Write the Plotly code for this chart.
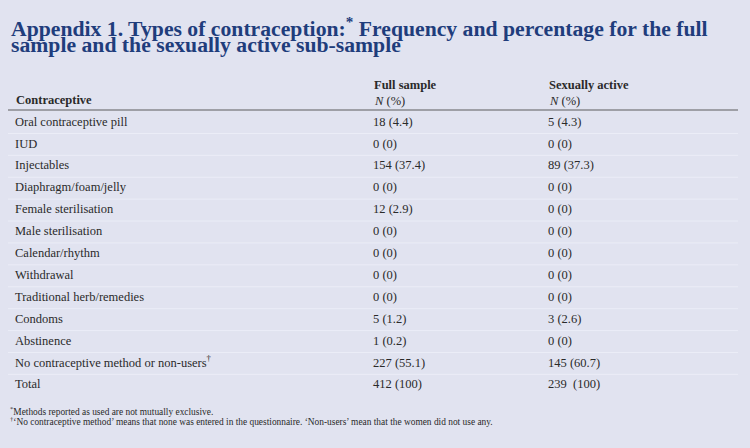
import plotly.graph_objects as go

title_lines = [
    "Appendix 1. Types of contraception:<sup>*</sup> Frequency and percentage for the full",
    "sample and the sexually active sub-sample",
]
header_label = "Contraceptive"
col_headers = ["Full sample", "Sexually active"]
col_sub = "<i>N</i> (%)"
categories = [
    "Oral contraceptive pill", "IUD", "Injectables", "Diaphragm/foam/jelly",
    "Female sterilisation", "Male sterilisation", "Calendar/rhythm", "Withdrawal",
    "Traditional herb/remedies", "Condoms", "Abstinence",
    "No contraceptive method or non-users<sup>†</sup>", "Total",
]
full_n = [18, 0, 154, 0, 12, 0, 0, 0, 0, 5, 1, 227, 412]
full_pct = ["4.4", "0", "37.4", "0", "2.9", "0", "0", "0", "0", "1.2", "0.2", "55.1", "100"]
active_n = [5, 0, 89, 0, 0, 0, 0, 0, 0, 3, 0, 145, 239]
active_pct = ["4.3", "0", "37.3", "0", "0", "0", "0", "0", "0", "2.6", "0", "60.7", "100"]
footnotes = [
    "<sup>*</sup>Methods reported as used are not mutually exclusive.",
    "<sup>†</sup>‘No contraceptive method’ means that none was entered in the questionnaire. ‘Non-users’ mean that the women did not use any.",
]

# layout constants
W, H = 750, 448
BG = "#e1e3f0"
TITLE_C = "#1f3d7c"
TXT = "#2a2a2a"
FONT = "Liberation Serif"
col_x = [15, 373, 548]
row0 = 122.5
row_h = 21.9
line_left, line_right = 8, 738

ys = [row0 + i * row_h for i in range(len(categories))]
full_txt = [f"{n} ({p})" for n, p in zip(full_n, full_pct)]
active_txt = [f"{n} ({p})" if c != "Total" else f"{n}  ({p})"
              for n, p, c in zip(active_n, active_pct, categories)]

fig = go.Figure()
for x, texts in zip(col_x, [categories, full_txt, active_txt]):
    fig.add_trace(go.Scatter(
        x=[x] * len(texts), y=ys, text=texts, mode="text",
        textposition="middle right",
        textfont=dict(family=FONT, size=12.5, color=TXT),
        hoverinfo="skip", showlegend=False,
    ))

shapes = []
shapes.append(dict(type="line", xref="x", yref="y", x0=line_left, x1=line_right,
                   y0=110, y1=110, line=dict(color="#5c5c5c", width=1.2)))
for y in ys[:-1]:
    shapes.append(dict(type="line", xref="x", yref="y", x0=line_left, x1=line_right,
                       y0=y + row_h / 2, y1=y + row_h / 2,
                       line=dict(color="#ebedf7", width=1)))

ann = []
for t, ty in zip(title_lines, [43.5, 59]):
    ann.append(dict(x=9, y=ty, xref="x", yref="y", text=f"<b>{t}</b>",
                    showarrow=False, xanchor="left", yanchor="bottom",
                    font=dict(family=FONT, size=21.7, color=TITLE_C)))
ann.append(dict(x=col_x[0] - 1, y=100, xref="x", yref="y", text=f"<b>{header_label}</b>",
                showarrow=False, xanchor="left", yanchor="middle",
                font=dict(family=FONT, size=12.5, color=TXT)))
for x, h in zip(col_x[1:], col_headers):
    ann.append(dict(x=x - 1, y=85, xref="x", yref="y", text=f"<b>{h}</b>",
                    showarrow=False, xanchor="left", yanchor="middle",
                    font=dict(family=FONT, size=12.5, color=TXT)))
    ann.append(dict(x=x - 1, y=100.5, xref="x", yref="y", text=col_sub,
                    showarrow=False, xanchor="left", yanchor="middle",
                    font=dict(family=FONT, size=12.5, color=TXT)))
for f, fy in zip(footnotes, [411, 421]):
    ann.append(dict(x=8, y=fy, xref="x", yref="y", text=f,
                    showarrow=False, xanchor="left", yanchor="middle",
                    font=dict(family=FONT, size=9.4, color=TXT)))

fig.update_layout(
    width=W, height=H, margin=dict(l=0, r=0, t=0, b=0),
    paper_bgcolor=BG, plot_bgcolor=BG,
    xaxis=dict(range=[0, W], visible=False, fixedrange=True),
    yaxis=dict(range=[H, 0], visible=False, fixedrange=True),
    shapes=shapes, annotations=ann,
)
fig.write_html("out.html", config={"displayModeBar": False},
               post_script="document.body.style.margin='0';document.body.style.background='%s';" % BG)
